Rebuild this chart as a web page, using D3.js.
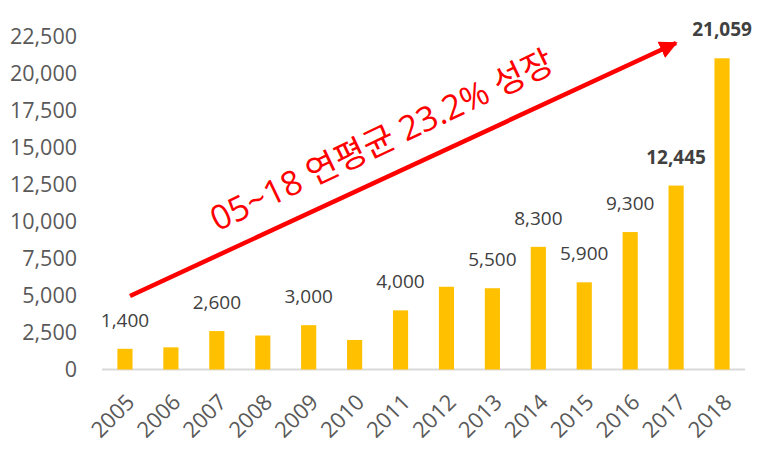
<!DOCTYPE html>
<html><head><meta charset="utf-8">
<script src="https://cdn.jsdelivr.net/npm/d3@7"></script>
<style>body{margin:0;background:#fff}svg{display:block}text{font-family:"Open Sans","Noto Sans CJK KR",sans-serif}</style>
</head><body><svg id="c" width="762" height="454"></svg>
<script>
const years = ["2005","2006","2007","2008","2009","2010","2011","2012","2013","2014","2015","2016","2017","2018"];
const values = [1400,1500,2600,2300,3000,2000,4000,5600,5500,8300,5900,9300,12445,21059];
const labels = ["1,400","","2,600","","3,000","","4,000","","5,500","8,300","5,900","9,300","12,445","21,059"];
const boldLabels = ["2017","2018"];
const yTicks = [0,2500,5000,7500,10000,12500,15000,17500,20000,22500];
const annotation = "05~18 연평균 23.2% 성장";

const FONT = '"Open Sans","Noto Sans CJK KR",sans-serif';
const svg = d3.select("#c");
const x = d3.scaleBand().domain(years).range([102,745]).paddingInner(0.67).paddingOuter(0.335);
const y = d3.scaleLinear().domain([0,22500]).range([369.5,37]);

// y axis labels
const ya = svg.append("g").attr("transform","translate(77,0)")
  .call(d3.axisLeft(y).tickValues(yTicks).tickSize(0).tickPadding(0).tickFormat(d3.format(",")));
ya.select(".domain").remove();
ya.selectAll("text").attr("fill","#595959").style("font-size","21.5px").style("font-family",FONT);

// baseline
svg.append("line").attr("x1",102).attr("x2",745).attr("y1",y(0)).attr("y2",y(0))
  .attr("stroke","#d9d9d9").attr("stroke-width",2);

// bars
svg.selectAll("rect.bar").data(years).join("rect").attr("class","bar")
  .attr("x",d=>x(d)).attr("width",x.bandwidth())
  .attr("y",(d,i)=>y(values[i])).attr("height",(d,i)=>y(0)-y(values[i]))
  .attr("fill","#ffc000");

// value labels
svg.selectAll("text.vl").data(years).join("text").attr("class","vl")
  .attr("x",d=>x(d)+x.bandwidth()/2).attr("y",(d,i)=>y(values[i])-22)
  .attr("text-anchor","middle").attr("fill","#404040")
  .style("font-family",FONT)
  .style("font-size","19px").style("font-weight",d=>boldLabels.includes(d)?"bold":"normal")
  .text((d,i)=>labels[i]);

// x axis labels
const xa = svg.append("g").attr("transform",`translate(0,${y(0)})`)
  .call(d3.axisBottom(x).tickSize(0).tickPadding(0));
xa.select(".domain").remove();
xa.selectAll("text").attr("fill","#595959").style("font-size","22px")
  .style("font-family",FONT)
  .attr("text-anchor","end").attr("dy",null).attr("y",0)
  .attr("transform","translate(11,34) rotate(-45)");

// arrow
const defs = svg.append("defs");
defs.append("marker").attr("id","ah").attr("viewBox","0 0 10 10").attr("refX",9).attr("refY",5)
  .attr("markerWidth",4).attr("markerHeight",4).attr("orient","auto").attr("markerUnits","strokeWidth")
  .append("path").attr("d","M0,0 L10,5 L0,10 z").attr("fill","#ff0000");
svg.append("line").attr("x1",130).attr("y1",296).attr("x2",676).attr("y2",43)
  .attr("stroke","#ff0000").attr("stroke-width",4.5).attr("marker-end","url(#ah)");

svg.append("text").attr("transform","translate(387,151) rotate(-25.5)")
  .attr("text-anchor","middle").attr("fill","#ff0000").style("font-size","34px")
  .style("font-family",FONT)
  .text(annotation);
</script></body></html>
